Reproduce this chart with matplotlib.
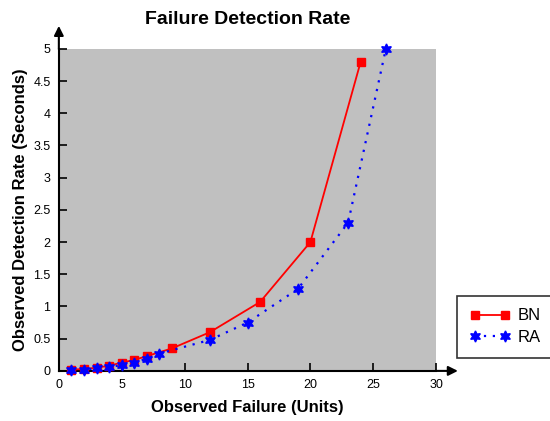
import matplotlib
matplotlib.use("Agg")
import matplotlib.pyplot as plt

plt.rcParams['font.family'] = ['Liberation Sans', 'DejaVu Sans']

bn_x = [1, 2, 3, 4, 5, 6, 7, 9, 12, 16, 20, 24]
bn_y = [0.02, 0.03, 0.05, 0.08, 0.13, 0.17, 0.23, 0.35, 0.6, 1.07, 2.0, 4.8]
ra_x = [1, 2, 3, 4, 5, 6, 7, 8, 12, 15, 19, 23, 26]
ra_y = [0.01, 0.02, 0.04, 0.06, 0.09, 0.13, 0.19, 0.27, 0.48, 0.75, 1.27, 2.3, 5.0]

fig = plt.figure(figsize=(5.5, 4.21), dpi=100)
ax = fig.add_axes([0.107, 0.119, 0.686, 0.765])
ax.set_facecolor('#c0c0c0')

ax.plot(bn_x, bn_y, color='red', lw=1.3, marker='s', ms=6, label='BN', clip_on=False, zorder=3)
ax.plot(ra_x, ra_y, color='blue', lw=1.6, ls=(0, (1, 3)), marker=(6, 1, 0), ms=8,
        label='RA', clip_on=False, zorder=4)

ax.set_xlim(0, 30)
ax.set_ylim(0, 5)
ax.set_xticks(range(0, 31, 5))
ax.set_yticks([0, 0.5, 1, 1.5, 2, 2.5, 3, 3.5, 4, 4.5, 5])
ax.set_yticklabels(['0', '0.5', '1', '1.5', '2', '2.5', '3', '3.5', '4', '4.5', '5'])
ax.tick_params(direction='in', length=6, width=1.2, labelsize=9, pad=6)

for s in ['top', 'right']:
    ax.spines[s].set_visible(False)
for s in ['left', 'bottom']:
    ax.spines[s].set_linewidth(1.5)

# arrow heads on the axes
ax.annotate('', xy=(1.065, 0), xytext=(0.99, 0), xycoords='axes fraction',
            arrowprops=dict(arrowstyle='-|>', color='black', lw=1.5, mutation_scale=14))
ax.annotate('', xy=(0, 1.08), xytext=(0, 0.99), xycoords='axes fraction',
            arrowprops=dict(arrowstyle='-|>', color='black', lw=1.5, mutation_scale=14))

ax.set_title('Failure Detection Rate', fontsize=14, fontweight='bold', pad=18)
ax.set_xlabel('Observed Failure (Units)', fontsize=12, fontweight='bold', labelpad=6)
ax.set_ylabel('Observed Detection Rate (Seconds)', fontsize=12, fontweight='bold', labelpad=4)

leg = ax.legend(loc='upper left', bbox_to_anchor=(457 / 550, 1 - 296 / 421),
                bbox_transform=fig.transFigure, borderaxespad=0, fontsize=12,
                frameon=True, fancybox=False, edgecolor='black', numpoints=2,
                handlelength=2.4, handletextpad=0.5, borderpad=0.75, labelspacing=0.4)
leg.get_frame().set_linewidth(1.2)

fig.savefig('out.png', dpi=100)
